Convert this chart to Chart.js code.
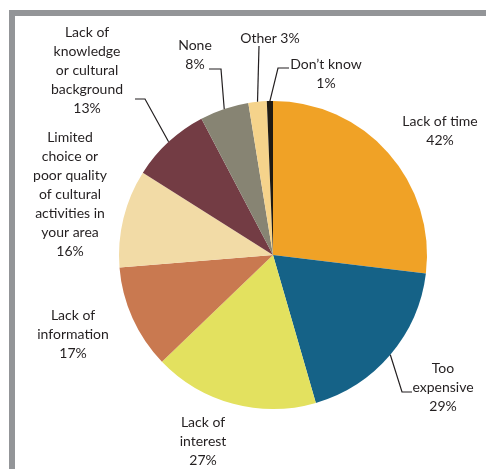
<!DOCTYPE html>
<html>
<head>
<meta charset="utf-8">
<script src="https://cdn.jsdelivr.net/npm/chart.js@4/dist/chart.umd.min.js"></script>
<style>
    html, body { margin: 0; padding: 0; background: #fff; }
    body { width: 486px; height: 469px; position: relative; overflow: hidden; }
    #frame {
        position: absolute; left: 9px; top: 10px; right: 0; bottom: 0;
        border-left: 6px solid #939598; border-top: 6px solid #939598;
    }
    #wrap { position: absolute; left: 0; top: 0; width: 486px; height: 469px; }
</style>
</head>
<body>
<div id="frame"></div>
<div id="wrap"><canvas id="pieChart"></canvas></div>
<script>
// reasons, clockwise from 12 o'clock
const categories = ['Lack of time', 'Too expensive', 'Lack of interest', 'Lack of information',
    'Limited choice or poor quality of cultural activities in your area',
    'Lack of knowledge or cultural background', 'None', 'Other', 'Don\u2019t know'];
const values = [42, 29, 27, 17, 16, 13, 8, 3, 1];
const colors = ['#F0A226', '#156287', '#E3E15F', '#C97950', '#F2DBA6', '#733C44', '#878473', '#F5D38B', '#1F1A12'];

// how each label is wrapped on the page
const labelLines = [
    ['Lack of time'],
    ['Too', 'expensive'],
    ['Lack of', 'interest'],
    ['Lack of', 'information'],
    ['Limited', 'choice or', 'poor quality', 'of cultural', 'activities in', 'your area'],
    ['Lack of', 'knowledge', 'or cultural', 'background'],
    ['None'],
    [],
    ['Don\u2019t know']
];

// label placement: x/y = centre of first text line, elbow = leader points before the slice edge
const labelLayout = [
    { x: 440, y: 121 },
    { x: 443, y: 368, elbow: [[412, 392], [402, 392]] },
    { x: 203, y: 422 },
    { x: 73, y: 315 },
    { x: 70, y: 137 },
    { x: 87, y: 32, elbow: [[135, 99], [145, 99]] },
    { x: 195, y: 45, elbow: [[209, 69], [221, 69]] },
    { x: 270, y: 38, elbow: [[259, 46]] },
    { x: 326, y: 64, elbow: [[289, 68], [278, 68]] }
];

const lineHeight = 19;
const textColor = '#231F20';

const labelPlugin = {
    id: 'pieLabels',
    afterDraw(chart) {
        const ctx = chart.ctx;
        const arcs = chart.getDatasetMeta(0).data;
        ctx.save();
        ctx.font = '14px Lato';
        ctx.fillStyle = textColor;
        ctx.strokeStyle = textColor;
        ctx.lineWidth = 1.2;
        ctx.textAlign = 'center';
        ctx.textBaseline = 'middle';

        arcs.forEach((arc, i) => {
            const lay = labelLayout[i];
            const lines = labelLines[i].slice();
            if (lines.length === 0) {
                lines.push(categories[i] + ' ' + values[i] + '%');
            } else {
                lines.push(values[i] + '%');
            }
            lines.forEach((line, j) => {
                ctx.fillText(line, lay.x, lay.y + j * lineHeight);
            });

            if (lay.elbow) {
                const p = arc.getProps(['x', 'y', 'startAngle', 'endAngle', 'outerRadius'], true);
                const mid = (p.startAngle + p.endAngle) / 2;
                const ex = p.x + Math.cos(mid) * p.outerRadius;
                const ey = p.y + Math.sin(mid) * p.outerRadius;
                ctx.beginPath();
                ctx.moveTo(lay.elbow[0][0], lay.elbow[0][1]);
                lay.elbow.slice(1).forEach(pt => ctx.lineTo(pt[0], pt[1]));
                ctx.lineTo(ex, ey);
                ctx.stroke();
            }
        });
        ctx.restore();
    }
};

new Chart(document.getElementById('pieChart'), {
    type: 'pie',
    data: {
        labels: categories,
        datasets: [{
            data: values,
            backgroundColor: colors,
            borderWidth: 0
        }]
    },
    options: {
        responsive: true,
        maintainAspectRatio: false,
        animation: false,
        layout: {
            padding: { left: 119, right: 59, top: 101, bottom: 60 }
        },
        plugins: {
            legend: { display: false },
            tooltip: { enabled: false }
        }
    },
    plugins: [labelPlugin]
});
</script>
</body>
</html>
